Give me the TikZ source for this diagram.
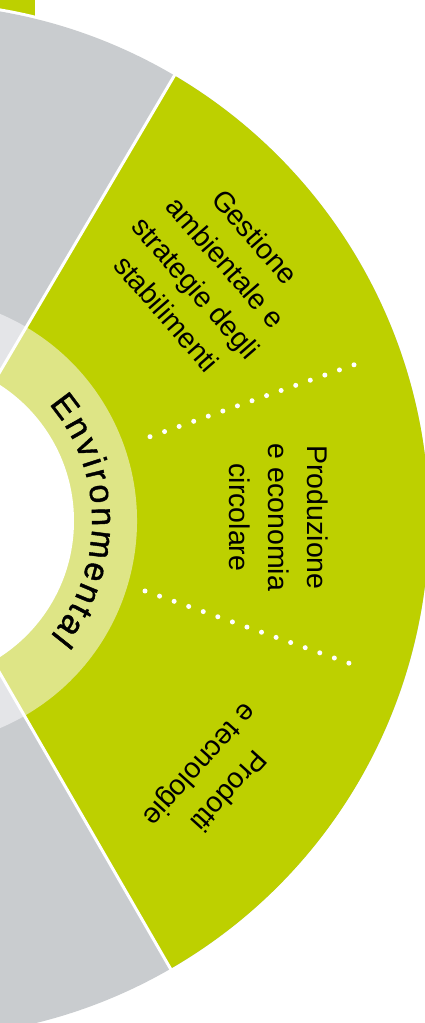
\documentclass[tikz,border=0pt]{standalone}
\usepackage{fontspec}
\setmainfont{Liberation Sans}
\newfontfamily\envfam[FakeBold=1.2]{Liberation Sans}
\usetikzlibrary{decorations.text}
\definecolor{esgreen}{RGB}{189,208,0}
\definecolor{eslight}{RGB}{222,229,134}
\definecolor{esgray}{RGB}{201,204,207}
\definecolor{esgraylt}{RGB}{228,229,232}
\newcommand{\envfont}{\envfam\fontsize{34}{34}\selectfont}
\begin{document}
\begin{tikzpicture}[x=1pt,y=1pt,
  sep/.style={draw=white, line width=3pt},
  dotline/.style={draw=white, line width=5pt, line cap=round, dash pattern=on 0pt off 15.45pt},
  label/.style={align=center, font=\fontsize{28.5}{39}\selectfont, text=black, inner sep=0pt}]
\useasboundingbox (0,0) rectangle (425,1023);
\fill[white] (0,0) rectangle (425,1023);
\begin{scope}
\clip (0,0) rectangle (425,1023);
\coordinate (C) at (-88,502);
% green piece of the neighbouring figure
\fill[esgreen] (0,1007) rectangle (35,1023);
\fill[white] (C) circle[radius=520];
% outer grey ring and inner light grey ring
\fill[esgray] (C) circle[radius=517];
\fill[esgraylt] (C) circle[radius=225];
% environmental sector
\fill[esgreen] (C) -- ([shift={(-60:517)}]C) arc[start angle=-60, end angle=59.5, radius=517] -- cycle;
\fill[eslight] (C) -- ([shift={(-60:225)}]C) arc[start angle=-60, end angle=59.5, radius=225] -- cycle;
% separators
\coordinate (s1) at ([shift={(59.5:535)}]C);
\coordinate (s2) at ([shift={(-60:535)}]C);
\draw[sep] (C) -- (s1);
\draw[sep] (C) -- (s2);
% inner white disc
\fill[white] (C) circle[radius=162];
% dotted dividers
\coordinate (d1a) at (150,586.3);
\coordinate (d1b) at (354.3,658.3);
\coordinate (d2a) at (145,432);
\coordinate (d2b) at (349.3,359.7);
\draw[dotline] (d1a) -- (d1b);
\draw[dotline] (d2a) -- (d2b);
% ring title
\path[decorate, decoration={text along path, text={|\envfont|Environmental}, text align={fit to path}}]
  ([shift={(40.5:180)}]C) arc[start angle=40.5, end angle=-39.7, radius=180];
% sector labels
\node[label, rotate=-49] (t1) at (211,748) {Gestione\\ambientale e\\strategie degli\\stabilimenti};
\node[label, rotate=-90] (t2) at (279,505.5) {Produzione\\e economia\\circolare};
\node[label, rotate=-132] (t3) at (213,246) {Prodotti\\e tecnologie};
\end{scope}
\end{tikzpicture}
\end{document}
